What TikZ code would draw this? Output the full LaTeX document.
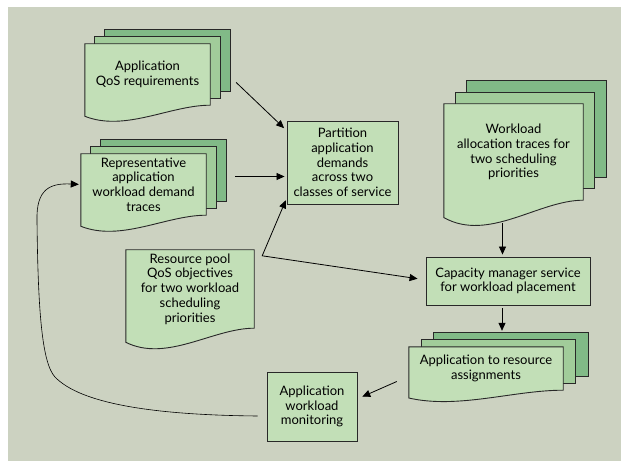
\documentclass[tikz,border=0pt]{standalone}
\usepackage{fontspec}
\setmainfont{Lato}
\usetikzlibrary{arrows.meta,calc,backgrounds}

\definecolor{panelgray}{RGB}{204,210,193}
\definecolor{pagelight}{RGB}{194,223,183}
\definecolor{pagemid}{RGB}{161,204,154}
\definecolor{pagedark}{RGB}{129,186,135}
\definecolor{edgegray}{RGB}{40,40,40}

\tikzset{
  box/.style={rectangle, draw=edgegray, fill=pagelight, line width=0.9pt, align=center, inner sep=0pt},
  docnode/.style={rectangle, align=center, inner sep=0pt},
  page/.style={draw=edgegray, line width=0.9pt},
  flow/.style={-{Triangle[length=8pt,width=7pt]}, line width=0.8pt, shorten >=2pt},
}

% front page with a wavy bottom edge
\newcommand{\wavepage}[1]{%
  \draw[page, fill=pagelight] let \p1=(#1.south west), \p2=(#1.north east),
      \n1={\x2-\x1}, \n2={\y2-\y1} in
    (\x1,\y2) -- (\x2,\y2) -- (\x2,\y1)
    .. controls (\x1+0.68*\n1,\y1) and (\x1+0.32*\n1,\y1-0.44*\n2) .. (\x1,\y1-0.18*\n2) -- cycle;}

% three stacked pages behind a document node
\newcommand{\pagestack}[3]{%
  \draw[page, fill=pagedark] ([shift={(2*#2,2*#3)}]#1.north west) rectangle ([shift={(2*#2,2*#3)}]#1.south east);
  \draw[page, fill=pagemid] ([shift={(#2,#3)}]#1.north west) rectangle ([shift={(#2,#3)}]#1.south east);
  \wavepage{#1}}

\begin{document}
\begin{tikzpicture}[x=1pt, y=1pt, font=\fontsize{13pt}{14.7pt}\selectfont]

  \useasboundingbox (0,0) rectangle (621,461);

  % documents
  \node (qos) at (147.5,386.5) [docnode, minimum width=125pt, minimum height=61pt] {Application\\QoS requirements};

  \node (traces) at (143.5,276.5) [docnode, minimum width=125pt, minimum height=61pt] {Representative\\application\\workload demand\\traces};

  \node (alloc) at (513.5,309) [docnode, minimum width=139pt, minimum height=96pt] {Workload\\allocation traces for\\two scheduling\\priorities};

  \node (pool) at (190,172) [docnode, minimum width=128pt, minimum height=78pt] {Resource pool\\QoS objectives\\for two workload\\scheduling\\priorities};

  \node (assign) at (486,92.5) [docnode, minimum width=154pt, minimum height=43pt] {Application to resource\\assignments};

  % processes
  \node (partition) at (342.5,298.5) [box, minimum width=111pt, minimum height=83pt] {Partition\\application\\demands\\across two\\classes of service};

  \node (capacity) at (508,180) [box, minimum width=164pt, minimum height=48pt] {Capacity manager service\\for workload placement};

  \node (monitor) at (312,54.5) [box, minimum width=90pt, minimum height=69pt] {Application\\workload\\monitoring};

  \coordinate (poolcorner) at ([shift={(8pt,-6pt)}]pool.north east);

  \begin{scope}[on background layer]
    \fill[panelgray] (8,0) rectangle (621,454);
    \pagestack{qos}{10}{7}
    \pagestack{traces}{10}{7}
    \pagestack{alloc}{11.5}{11.5}
    \pagestack{assign}{12.5}{7}
    \wavepage{pool}
  \end{scope}

  % connectors
  \draw[flow] ([shift={(26pt,-8pt)}]qos.east) -- ([shift={(-1pt,-9pt)}]partition.north west);

  \draw[flow] ([shift={(29pt,8pt)}]traces.east) -- ([yshift=-14pt]partition.west);

  \draw[flow, {Triangle[length=8pt,width=7pt]}-{Triangle[length=8pt,width=7pt]}, shorten <=2pt] ([yshift=6pt]partition.south west) -- (poolcorner) -- ([shift={(-6pt,2pt)}]capacity.west);

  \draw[flow] ([shift={(-11pt,-23pt)}]alloc.south) -- ([xshift=-11pt]alloc.south |- capacity.north);

  \draw[flow] ([shift={(-6pt,-3pt)}]capacity.south) -- ([xshift=-6pt,yshift=14pt]capacity.south |- assign.north);

  \draw[flow] ([shift={(-12pt,-13pt)}]assign.west) -- ([shift={(3pt,9pt)}]monitor.east);

  \draw[flow, line width=0.6pt] ([shift={(-9pt,-9.5pt)}]monitor.west)
    .. controls (150,46) and (80,58) .. (55,84)
    .. controls (42,98) and (38,150) .. (37,240)
    .. controls (36,272) and (50,278) .. (traces.west);

\end{tikzpicture}
\end{document}
